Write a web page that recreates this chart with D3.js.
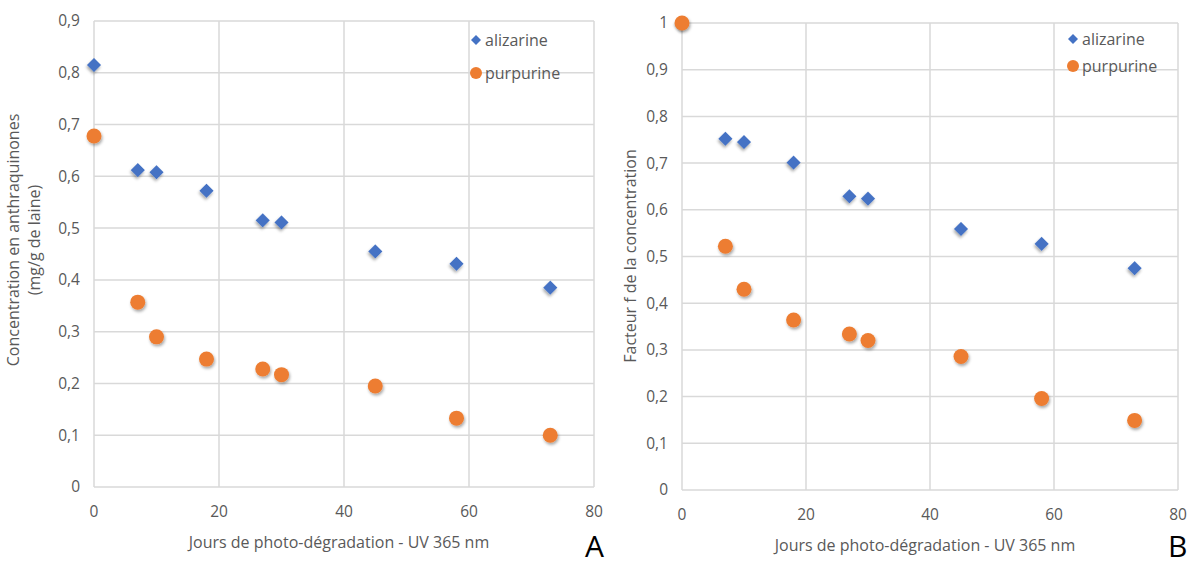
<!DOCTYPE html>
<html><head><meta charset="utf-8">
<script src="https://cdn.jsdelivr.net/npm/d3@7/dist/d3.min.js"></script>
<style>body{margin:0;background:#fff}svg{display:block}</style>
</head><body>
<svg id="c" width="1190" height="565"></svg>
<script>
const days = [0, 7, 10, 18, 27, 30, 45, 58, 73];
const alizarineA = [0.815, 0.612, 0.608, 0.572, 0.515, 0.511, 0.455, 0.431, 0.385];
const purpurineA = [0.678, 0.357, 0.290, 0.247, 0.228, 0.217, 0.195, 0.133, 0.100];
const alizarineB = [1.000, 0.752, 0.745, 0.701, 0.629, 0.624, 0.559, 0.527, 0.475];
const purpurineB = [1.000, 0.522, 0.430, 0.364, 0.334, 0.320, 0.286, 0.196, 0.149];
const xTicks = [0, 20, 40, 60, 80];
const yTicksA = [0, 0.1, 0.2, 0.3, 0.4, 0.5, 0.6, 0.7, 0.8, 0.9];
const yTicksB = [0, 0.1, 0.2, 0.3, 0.4, 0.5, 0.6, 0.7, 0.8, 0.9, 1];
const seriesNames = ["alizarine", "purpurine"];
const xTitle = "Jours de photo-dégradation - UV 365 nm";

const svg = d3.select("#c");
const FONT = "'Open Sans', 'Noto Sans', sans-serif";
const defs = svg.append("defs");
const f = defs.append("filter").attr("id","sh").attr("x","-50%").attr("y","-50%").attr("width","200%").attr("height","200%");
f.append("feDropShadow").attr("dx",1).attr("dy",2).attr("stdDeviation",1.6).attr("flood-color","#000").attr("flood-opacity",0.35);

const fmt = v => (v === 0 ? "0" : (v === 1 ? "1" : d3.format(".1f")(v).replace(".", ",")));

function panel(o) {
  const x = d3.scaleLinear().domain([0, 80]).range([o.x0, o.x1]);
  const y = d3.scaleLinear().domain([0, o.ymax]).range([o.y0, o.y1]);
  const g = svg.append("g");
  g.selectAll(".gy").data(o.yTicks).join("line")
    .attr("x1", o.x0).attr("x2", o.x1).attr("y1", d => y(d)).attr("y2", d => y(d))
    .attr("stroke", "#d9d9d9").attr("stroke-width", 1.5);
  g.selectAll(".gx").data(xTicks).join("line")
    .attr("x1", d => x(d)).attr("x2", d => x(d)).attr("y1", o.y0).attr("y2", o.y1)
    .attr("stroke", "#d9d9d9").attr("stroke-width", 1.5);
  g.selectAll(".ty").data(o.yTicks).join("text")
    .attr("x", o.x0 - 14).attr("y", d => y(d)).attr("dy", "0.35em")
    .attr("text-anchor", "end").attr("font-family", FONT).attr("font-size", 15.5).attr("fill", "#595959")
    .text(fmt);
  g.selectAll(".tx").data(xTicks).join("text")
    .attr("x", d => x(d)).attr("y", o.y0 + 25).attr("dy", "0.35em")
    .attr("text-anchor", "middle").attr("font-family", FONT).attr("font-size", 15.5).attr("fill", "#595959")
    .text(d => d);
  g.append("text").attr("x", (o.x0 + o.x1) / 2 - 5).attr("y", o.y0 + 55).attr("dy","0.35em")
    .attr("text-anchor", "middle").attr("font-family", FONT).attr("font-size", 16).attr("fill", "#595959")
    .text(xTitle);
  const yt = g.append("text").attr("transform", `translate(${o.ytx},${o.yty}) rotate(-90)`)
    .attr("text-anchor", "middle").attr("font-family", FONT).attr("font-size", 16).attr("fill", "#595959");
  o.yTitle.forEach((l, i) => yt.append("tspan").attr("x", 0).attr("dy", i === 0 ? (o.yTitle.length > 1 ? "-0.2em" : "0.35em") : "1.3em").text(l));
  const pts = days.map((d, i) => ({ d, a: o.a[i], p: o.p[i] }));
  g.selectAll(".pa").data(pts).join("path")
    .attr("d", d3.symbol(d3.symbolSquare, 100)())
    .attr("transform", d => `translate(${x(d.d)},${y(d.a)}) rotate(45)`)
    .attr("fill", "#4472c4").attr("filter", "url(#sh)");
  g.selectAll(".pp").data(pts).join("circle")
    .attr("cx", d => x(d.d)).attr("cy", d => y(d.p)).attr("r", 7.5)
    .attr("fill", "#ed7d31").attr("filter", "url(#sh)");
  const lg = g.append("g");
  lg.append("path").attr("d", d3.symbol(d3.symbolSquare, 50)())
    .attr("transform", `translate(${o.lx},${o.ly1}) rotate(45)`).attr("fill", "#4472c4");
  lg.append("circle").attr("cx", o.lx).attr("cy", o.ly2).attr("r", 6).attr("fill", "#ed7d31");
  [o.ly1, o.ly2].forEach((yy, i) => lg.append("text").attr("x", o.lx + 9).attr("y", yy).attr("dy", "0.35em")
    .attr("font-family", FONT).attr("font-size", 16).attr("fill", "#595959").text(seriesNames[i]));
  g.append("text").attr("x", o.letterX).attr("y", 557).attr("font-family", FONT).attr("font-size", 30)
    .attr("fill", "#000").text(o.letter);
}

panel({ x0: 94, x1: 594, y0: 487, y1: 21, ymax: 0.9, yTicks: yTicksA, a: alizarineA, p: purpurineA,
  yTitle: ["Concentration en anthraquinones", "(mg/g de laine)"], ytx: 22, yty: 240,
  lx: 476, ly1: 40, ly2: 73, letter: "A", letterX: 585 });
panel({ x0: 682, x1: 1178, y0: 490, y1: 23, ymax: 1, yTicks: yTicksB, a: alizarineB, p: purpurineB,
  yTitle: ["Facteur f de la concentration"], ytx: 630, yty: 256,
  lx: 1073, ly1: 39, ly2: 66, letter: "B", letterX: 1168 });
</script>
</body></html>
